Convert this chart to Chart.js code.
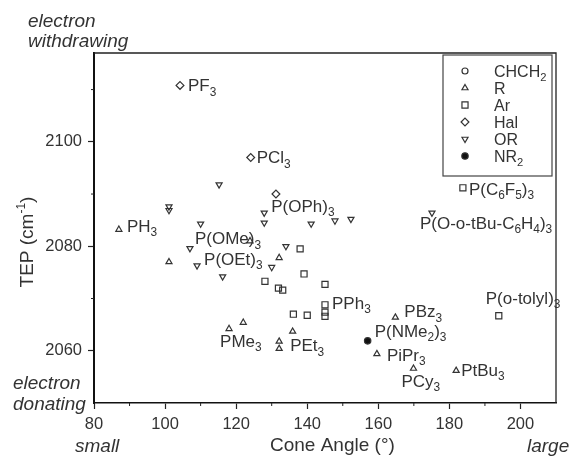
<!DOCTYPE html>
<html>
<head>
<meta charset="utf-8">
<script src="https://cdn.jsdelivr.net/npm/chart.js@4.4.1/dist/chart.umd.min.js"></script>
<style>
  html, body { margin: 0; padding: 0; background: #fff; }
  #wrap { width: 571px; height: 457px; }
</style>
</head>
<body>
<div id="wrap"><canvas id="chart" width="571" height="457"></canvas></div>
<script>
// Tolman electronic parameter vs cone angle
const xTicks = [80, 100, 120, 140, 160, 180, 200];
const yTicks = [2060, 2080, 2100];

const seriesNames = ['CHCH_2', 'R', 'Ar', 'Hal', 'OR', 'NR_2'];

const chchX = [];
const chchY = [];

const rX = [87.0, 101.1, 118.0, 122.0, 123.9, 132.1, 132.1, 132.1, 135.9, 164.8, 159.6, 169.9, 181.9];
const rY = [2083.2, 2077.0, 2064.2, 2065.4, 2081.0, 2077.8, 2061.8, 2060.4, 2063.7, 2066.4, 2059.4, 2056.6, 2056.2];

const arX = [128.1, 131.9, 133.1, 138.0, 139.1, 145.0, 145.0, 145.0, 145.0, 136.1, 140.0, 183.8, 193.9];
const arY = [2073.3, 2072.0, 2071.6, 2079.5, 2074.7, 2072.7, 2068.8, 2067.4, 2066.6, 2067.0, 2066.8, 2091.2, 2066.7];

const halX = [104.2, 124.1, 131.2];
const halY = [2110.8, 2097.0, 2090.0];

const orX = [101.1, 101.1, 110.0, 115.2, 107.0, 109.0, 116.2, 127.9, 127.9, 130.0, 134.0, 141.1, 147.8, 152.3, 175.1];
const orY = [2087.6, 2086.9, 2084.3, 2091.8, 2079.6, 2076.3, 2074.2, 2086.4, 2084.5, 2076.0, 2080.0, 2084.3, 2084.9, 2085.2, 2086.4];

const nrX = [157.0];
const nrY = [2061.9];

// point labels: text, the point they name, then a pixel nudge
const labelText = ['PF_3', 'PCl_3', 'P(OPh)_3', 'PH_3', 'P(OMe)_3', 'P(OEt)_3', 'PMe_3', 'PEt_3',
  'PPh_3', 'PBz_3', 'P(NMe_2)_3', 'PiPr_3', 'PCy_3', 'PtBu_3', 'P(C_6F_5)_3',
  'P(O-o-tBu-C_6H_4)_3', 'P(o-tolyl)_3'];
const labelX = [104.2, 124.1, 127.9, 87.0, 107.0, 109.0, 118.0, 132.1, 145.0, 164.8, 157.0, 159.6, 169.9, 181.9, 183.8, 175.1, 193.9];
const labelY = [2110.8, 2097.0, 2086.4, 2083.2, 2079.6, 2076.3, 2064.2, 2061.8, 2068.8, 2066.4, 2061.9, 2059.4, 2056.6, 2056.2, 2091.2, 2086.4, 2066.7];
const labelDx = [8, 6, 7, 8, 5, 7, -9, 11, 7, 9, 7, 10, -12, 5, 6, -12, -13];
const labelDy = [6, 6, -1, 2, -4, -1, 18, 10, 4, 0, -4, 7, 18, 5, 7, 16, -12];

const FONT = '"Liberation Sans", Arial, Helvetica, sans-serif';
const INK = '#333';
const MARK = '#333';

function pts(xs, ys) {
    return xs.map((x, i) => ({ x: x, y: ys[i] }));
}

function series(label, xs, ys, style, radius, rotation, fill) {
    return {
        label: label,
        data: pts(xs, ys),
        pointStyle: style,
        pointRadius: radius,
        pointRotation: rotation,
        pointBorderWidth: 1.2,
        pointBorderColor: MARK,
        pointBackgroundColor: fill,
        showLine: false
    };
}

const datasets = [
    series(seriesNames[0], chchX, chchY, 'circle', 3, 0, 'rgba(0,0,0,0)'),
    series(seriesNames[1], rX, rY, 'triangle', 3.5, 0, 'rgba(0,0,0,0)'),
    series(seriesNames[2], arX, arY, 'rect', 4.3, 0, 'rgba(0,0,0,0)'),
    series(seriesNames[3], halX, halY, 'rectRot', 3.9, 0, 'rgba(0,0,0,0)'),
    series(seriesNames[4], orX, orY, 'triangle', 3.5, 180, 'rgba(0,0,0,0)'),
    series(seriesNames[5], nrX, nrY, 'circle', 3.2, 0, '#111')
];

// draws "PF_3" style strings, "_" marks the next char as subscript
function drawRich(ctx, str, x, y, size) {
    let cx = x;
    for (let i = 0; i < str.length; i++) {
        let ch = str[i];
        let sub = false;
        if (ch === '_') {
            sub = true;
            ch = str[++i];
        }
        ctx.font = (sub ? size * 0.7 : size) + 'px ' + FONT;
        ctx.fillText(ch, cx, sub ? y + size * 0.26 : y);
        cx += ctx.measureText(ch).width;
    }
    return cx;
}

function marker(ctx, ds, x, y) {
    ctx.save();
    ctx.strokeStyle = ds.pointBorderColor;
    ctx.fillStyle = ds.pointBackgroundColor;
    ctx.lineWidth = ds.pointBorderWidth;
    Chart.helpers.drawPoint(ctx, {
        pointStyle: ds.pointStyle,
        radius: ds.pointRadius,
        rotation: ds.pointRotation,
        borderWidth: ds.pointBorderWidth
    }, x, y);
    ctx.restore();
}

const decor = {
    id: 'decor',
    afterDraw(chart) {
        const ctx = chart.ctx;
        const a = chart.chartArea;
        const xs = chart.scales.x;
        const ys = chart.scales.y;
        ctx.save();

        // top and right frame
        ctx.strokeStyle = '#222';
        ctx.lineWidth = 1.3;
        ctx.beginPath();
        ctx.moveTo(a.left, a.top);
        ctx.lineTo(a.right, a.top);
        ctx.lineTo(a.right, a.bottom);
        ctx.stroke();

        // minor ticks
        ctx.lineWidth = 1;
        ctx.beginPath();
        for (let v = 90; v < 210; v += 20) {
            const px = xs.getPixelForValue(v);
            ctx.moveTo(px, a.bottom);
            ctx.lineTo(px, a.bottom + 3);
        }
        for (let v = 2070; v < 2117; v += 20) {
            const py = ys.getPixelForValue(v);
            ctx.moveTo(a.left, py);
            ctx.lineTo(a.left - 3, py);
        }
        ctx.stroke();

        // point labels
        ctx.fillStyle = INK;
        ctx.textBaseline = 'alphabetic';
        ctx.textAlign = 'left';
        labelText.forEach((t, i) => {
            const px = xs.getPixelForValue(labelX[i]) + labelDx[i];
            const py = ys.getPixelForValue(labelY[i]) + labelDy[i];
            drawRich(ctx, t, px, py, 17);
        });

        // legend
        ctx.strokeStyle = '#444';
        ctx.lineWidth = 1.2;
        ctx.strokeRect(443, 55, 109, 121);
        datasets.forEach((ds, i) => {
            const ly = 71 + i * 17;
            marker(ctx, ds, 465, ly);
            ctx.fillStyle = INK;
            drawRich(ctx, seriesNames[i], 494, ly + 6, 16);
        });

        // axis titles
        ctx.fillStyle = INK;
        ctx.font = '19px ' + FONT;
        ctx.fillText('Cone Angle (\u00b0)', 270, 451);

        ctx.save();
        ctx.translate(33, 242);
        ctx.rotate(-Math.PI / 2);
        ctx.font = '19px ' + FONT;
        const w1 = ctx.measureText('TEP (cm').width;
        ctx.font = '12px ' + FONT;
        const w2 = ctx.measureText('-1').width;
        ctx.font = '19px ' + FONT;
        const w3 = ctx.measureText(')').width;
        let sx = -(w1 + w2 + w3) / 2;
        ctx.fillText('TEP (cm', sx, 0);
        ctx.font = '12px ' + FONT;
        ctx.fillText('-1', sx + w1, -8);
        ctx.font = '19px ' + FONT;
        ctx.fillText(')', sx + w1 + w2, 0);
        ctx.restore();

        // corner notes
        ctx.font = 'italic 19px ' + FONT;
        ctx.fillText('electron', 28, 27);
        ctx.fillText('withdrawing', 28, 47);
        ctx.fillText('electron', 13, 389);
        ctx.fillText('donating', 13, 410);
        ctx.fillText('small', 75, 452);
        ctx.fillText('large', 527, 452);

        ctx.restore();
    }
};

const tickFont = { family: FONT, size: 16.5 };

new Chart(document.getElementById('chart'), {
    type: 'scatter',
    data: { datasets: datasets },
    options: {
        responsive: false,
        animation: false,
        layout: { padding: { top: 53, right: 15, left: 0, bottom: 0 } },
        plugins: {
            legend: { display: false },
            tooltip: { enabled: false }
        },
        scales: {
            x: {
                type: 'linear',
                min: 80,
                max: 210,
                afterFit: s => { s.height = 54; },
                afterBuildTicks: s => { s.ticks = xTicks.map(v => ({ value: v })); },
                ticks: { color: INK, font: tickFont, padding: 6, autoSkip: false, maxRotation: 0, callback: v => String(v) },
                grid: { drawOnChartArea: false, tickLength: 6, color: '#222', tickWidth: 1.2 },
                border: { color: '#111', width: 1.6 }
            },
            y: {
                type: 'linear',
                min: 2050,
                max: 2117,
                afterFit: s => { s.width = 94; },
                afterBuildTicks: s => { s.ticks = yTicks.map(v => ({ value: v })); },
                ticks: { color: INK, font: tickFont, padding: 6, autoSkip: false, callback: v => String(v) },
                grid: { drawOnChartArea: false, tickLength: 6, color: '#222', tickWidth: 1.2 },
                border: { color: '#111', width: 2 }
            }
        }
    },
    plugins: [decor]
});
</script>
</body>
</html>
